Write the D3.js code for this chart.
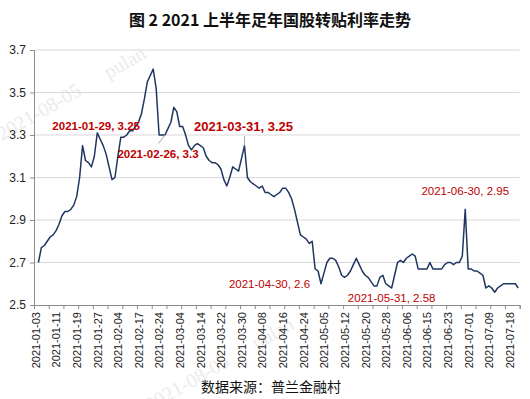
<!DOCTYPE html>
<html>
<head>
<meta charset="utf-8">
<script src="https://d3js.org/d3.v7.min.js"></script>
<style>
  body { margin: 0; background: #fff; }
</style>
</head>
<body>
<div id="chart"></div>

<script type="text/javascript">
// tick labels, one every 7 categories
var tickLabels = ["2021-01-03", "2021-01-11", "2021-01-19", "2021-01-27", "2021-02-04", "2021-02-17",
  "2021-02-24", "2021-03-04", "2021-03-14", "2021-03-22", "2021-03-30", "2021-04-08",
  "2021-04-16", "2021-04-24", "2021-05-05", "2021-05-12", "2021-05-20", "2021-05-28",
  "2021-06-06", "2021-06-15", "2021-06-23", "2021-07-01", "2021-07-09", "2021-07-18"];

// daily rate, first category has no value
var rates = [
  null, 2.70, 2.77, 2.78, 2.80, 2.82, 2.83, 2.85, 2.88, 2.92,
  2.94, 2.94, 2.95, 2.97, 3.01, 3.10, 3.25, 3.18, 3.17, 3.15,
  3.20, 3.31, 3.28, 3.25, 3.21, 3.15, 3.09, 3.10, 3.20, 3.29,
  3.29, 3.30, 3.32, 3.32, 3.34, 3.36, 3.40, 3.47, 3.55, 3.58,
  3.61, 3.52, 3.30, 3.30, 3.30, 3.33, 3.36, 3.43, 3.41, 3.34,
  3.34, 3.30, 3.25, 3.23, 3.25, 3.26, 3.25, 3.24, 3.20, 3.18,
  3.17, 3.17, 3.16, 3.14, 3.09, 3.06, 3.10, 3.15, 3.14, 3.13,
  3.19, 3.25, 3.10, 3.08, 3.07, 3.06, 3.05, 3.06, 3.03, 3.03,
  3.02, 3.01, 3.02, 3.03, 3.05, 3.05, 3.03, 3.00, 2.95, 2.89,
  2.83, 2.82, 2.81, 2.79, 2.80, 2.67, 2.66, 2.60, 2.65, 2.70,
  2.72, 2.72, 2.71, 2.68, 2.64, 2.63, 2.64, 2.66, 2.69, 2.72,
  2.69, 2.66, 2.64, 2.63, 2.61, 2.59, 2.59, 2.63, 2.64, 2.60,
  2.59, 2.58, 2.64, 2.70, 2.71, 2.70, 2.72, 2.73, 2.74, 2.73,
  2.67, 2.67, 2.67, 2.67, 2.70, 2.67, 2.67, 2.67, 2.67, 2.69,
  2.70, 2.70, 2.69, 2.70, 2.70, 2.73, 2.95, 2.67, 2.67, 2.66,
  2.66, 2.65, 2.64, 2.58, 2.59, 2.58, 2.56, 2.58, 2.59, 2.60,
  2.60, 2.60, 2.60, 2.60, 2.58
];

var yTicks = [2.5, 2.7, 2.9, 3.1, 3.3, 3.5, 3.7];

// labelled points
var noteIndex = [23, 44, 71, 97, 121, 146];
var noteDates = ["2021-01-29", "2021-02-26", "2021-03-31", "2021-04-30", "2021-05-31", "2021-06-30"];
var noteValues = [3.25, 3.3, 3.25, 2.6, 2.58, 2.95];

// where each label sits relative to its point
var noteLayout = [
  { dx: -7, dy: -20, size: 11.5, bold: true, leader: null },
  { dx: -7, dy: 19, size: 11.5, bold: true, leader: [-6.5, 8.5] },
  { dx: -1, dy: -19.5, size: 13, bold: true, leader: [0, -9.5] },
  { dx: -51.5, dy: 0, size: 11.5, bold: false, leader: null },
  { dx: 0, dy: 9.5, size: 11.5, bold: false, leader: null },
  { dx: 0, dy: -18.5, size: 11.5, bold: false, leader: null }
];

var W = 530, H = 399;
var plotLeft = 34, plotRight = 519.7, plotTop = 50, plotBottom = 305;
var sans = "'Liberation Sans', Arial, sans-serif";
var cjk = "'Noto Sans CJK SC', sans-serif";

var svg = d3.select("#chart").append("svg")
  .attr("width", W)
  .attr("height", H);

var nCat = rates.length;
var x = d3.scaleLinear().domain([0, nCat]).range([plotLeft, plotRight]);
var y = d3.scaleLinear().domain([2.5, 3.7]).range([plotBottom, plotTop]);

// watermark
[[2, 141], [150, 412]].forEach(function (p) {
  svg.append("text")
    .attr("transform", "translate(" + p[0] + "," + p[1] + ") rotate(-30)")
    .style("font-family", "'Liberation Serif', serif")
    .style("font-size", "20px")
    .style("fill", "#ebebeb")
    .style("white-space", "pre")
    .text("2021-08-05      pulan");
});

// gridlines
svg.append("g").selectAll("line")
  .data(yTicks.slice(1))
  .enter()
  .append("line")
    .attr("x1", plotLeft)
    .attr("x2", plotRight)
    .attr("y1", function (d) { return y(d); })
    .attr("y2", function (d) { return y(d); })
    .style("stroke", "#d9d9d9")
    .style("stroke-width", 1);

// line
var line = d3.line()
  .defined(function (d) { return d != null; })
  .x(function (d, i) { return x(i + 0.5); })
  .y(function (d) { return y(d); });

svg.append("path")
  .datum(rates)
  .attr("d", line)
  .style("fill", "none")
  .style("stroke", "#1f3660")
  .style("stroke-width", 1.5)
  .style("stroke-linejoin", "round");

// y axis
var yAxis = svg.append("g")
  .attr("transform", "translate(" + plotLeft + ",0)")
  .call(d3.axisLeft(y).tickValues(yTicks).tickSize(4).tickPadding(4).tickFormat(d3.format(".1f")));
yAxis.select(".domain").style("stroke", "#8c8c8c");
yAxis.selectAll(".tick line").style("stroke", "#8c8c8c");
yAxis.selectAll("text")
  .style("font-family", sans)
  .style("font-size", "12px")
  .style("fill", "#222");

// x axis ticks, every 5 categories
var xAxis = svg.append("g")
  .attr("transform", "translate(0," + plotBottom + ")")
  .call(d3.axisBottom(x).tickValues(d3.range(0, nCat + 1, 5)).tickSize(4).tickFormat(""));
xAxis.select(".domain").style("stroke", "#8c8c8c");
xAxis.selectAll(".tick line").style("stroke", "#8c8c8c");

// x labels, every 7 categories
var labelPos = tickLabels.map(function (d, k) { return k * 7 + 0.5; });
var xLabels = svg.append("g")
  .attr("transform", "translate(0," + plotBottom + ")")
  .call(d3.axisBottom(x).tickValues(labelPos).tickSize(0)
    .tickFormat(function (d, i) { return tickLabels[i]; }));
xLabels.select(".domain").remove();
xLabels.selectAll("text")
  .attr("x", -7)
  .attr("y", 0)
  .attr("dy", "0.35em")
  .attr("transform", "rotate(-90)")
  .style("text-anchor", "end")
  .style("font-family", sans)
  .style("font-size", "11px")
  .style("fill", "#222");

// point labels
noteIndex.forEach(function (idx, k) {
  var lay = noteLayout[k];
  var px = x(idx + 0.5), py = y(noteValues[k]);
  if (lay.leader) {
    svg.append("line")
      .attr("x1", px).attr("y1", py)
      .attr("x2", px + lay.leader[0]).attr("y2", py + lay.leader[1])
      .style("stroke", "#a6a6a6")
      .style("stroke-width", 1);
  }
  svg.append("text")
    .attr("x", px + lay.dx)
    .attr("y", py + lay.dy)
    .attr("dy", "0.35em")
    .style("text-anchor", "middle")
    .style("font-family", sans)
    .style("font-size", lay.size + "px")
    .style("font-weight", lay.bold ? "bold" : "normal")
    .style("fill", "#c00000")
    .text(noteDates[k] + ", " + noteValues[k]);
});

// title
svg.append("text")
  .attr("x", 270)
  .attr("y", 20)
  .attr("dy", "0.35em")
  .style("text-anchor", "middle")
  .style("font-family", cjk)
  .style("font-size", "16px")
  .style("font-weight", "bold")
  .style("fill", "#111")
  .text("图 2 2021 上半年足年国股转贴利率走势");

// source
svg.append("text")
  .attr("x", 271)
  .attr("y", 387)
  .attr("dy", "0.35em")
  .style("text-anchor", "middle")
  .style("font-family", cjk)
  .style("font-size", "14px")
  .style("fill", "#111")
  .text("数据来源：普兰金融村");
</script>
</body>
</html>
